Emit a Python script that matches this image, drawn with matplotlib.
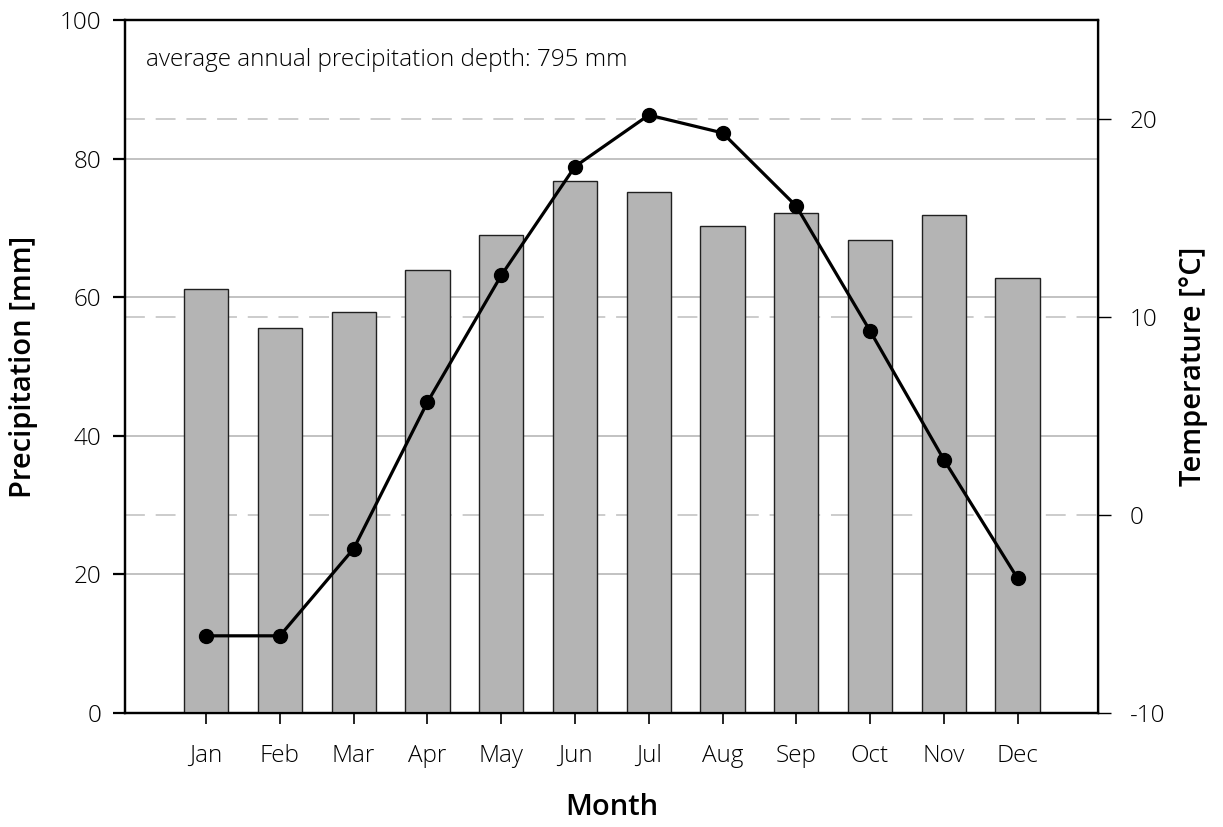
import matplotlib.pyplot as plt
from matplotlib.transforms import blended_transform_factory

plt.rcParams['font.family'] = ['Open Sans', 'DejaVu Sans']
plt.rcParams['axes.unicode_minus'] = False

months = ['Jan', 'Feb', 'Mar', 'Apr', 'May', 'Jun', 'Jul', 'Aug', 'Sep', 'Oct', 'Nov', 'Dec']
precip = [61.2, 55.6, 57.8, 64.0, 69.0, 76.8, 75.2, 70.3, 72.2, 68.3, 71.9, 62.8]
temp = [-6.1, -6.1, -1.7, 5.7, 12.1, 17.6, 20.2, 19.3, 15.6, 9.3, 2.8, -3.2]
precip_ticks = [0, 20, 40, 60, 80, 100]
temp_ticks = [-10, 0, 10, 20]
annual_total = 795

fig = plt.figure(figsize=(12.23, 8.27), dpi=100)
ax = fig.add_axes([0.1022, 0.1378, 0.7956, 0.838])
ax2 = ax.twinx()
ax.set_zorder(1)
ax2.set_zorder(2)
ax2.patch.set_visible(False)

x = range(len(months))
ax.bar(x, precip, width=0.6, color='#b4b4b4', edgecolor='#202020', linewidth=1.0, zorder=3)
ax.set_xlim(-1.1, 12.09)
ax.set_ylim(0, 100)
ax.set_yticks(precip_ticks)
ax.set_xticks(list(x))
ax.set_xticklabels(months)

# solid grid for precipitation, dashed grid for temperature, both behind the bars
for v in precip_ticks[1:-1]:
    ax.axhline(v, color='#bdbdbd', linewidth=1.3, zorder=1)
ax2.set_ylim(-10, 25)
trans = blended_transform_factory(ax.transAxes, ax2.transData)
for t in temp_ticks[1:]:
    ax.plot([0, 1], [t, t], transform=trans, color='#c8c8c8', linewidth=1.3,
            dashes=(11, 6), zorder=1)

ax2.plot(x, temp, color='black', linewidth=2.3, marker='o', markersize=10)
ax2.set_yticks(temp_ticks)

for a in (ax, ax2):
    for s in a.spines.values():
        s.set_linewidth(1.6)
        s.set_color('black')
ax2.spines['right'].set_linewidth(1.0)

ax.tick_params(axis='y', direction='out', length=9, width=1.6, labelsize=17.5, pad=8)
ax.tick_params(axis='x', direction='out', length=8, width=1.2, labelsize=17.5, pad=14)
ax2.tick_params(axis='y', direction='out', length=9, width=1.0, labelsize=17.5, pad=14)
for lbl in ax.get_xticklabels() + ax.get_yticklabels() + ax2.get_yticklabels():
    lbl.set_fontweight('light')
ax.set_ylabel('Precipitation [mm]', fontsize=21, fontweight='semibold', labelpad=16)
ax.set_xlabel('Month', fontsize=21, fontweight='semibold', labelpad=18)
ax2.set_ylabel('Temperature [°C]', fontsize=21, fontweight='semibold', labelpad=10)

ax.text(0.022, 0.943, f'average annual precipitation depth: {annual_total} mm',
        transform=ax.transAxes, fontsize=17.5, fontweight='light', va='center', ha='left')

fig.savefig('out.png', dpi=100)
